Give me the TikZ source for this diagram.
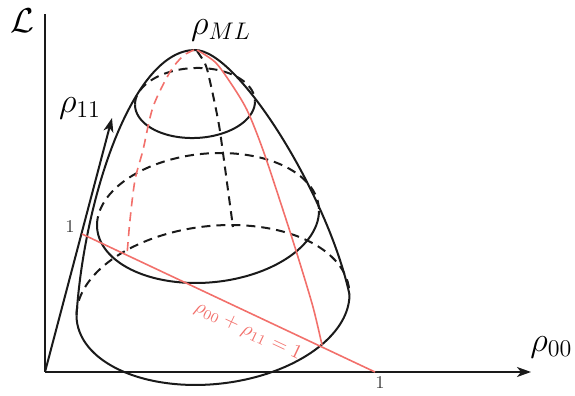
\documentclass[tikz,border=0pt]{standalone}
\usepackage{amsmath}
\usepackage{xcolor}
\usepackage{tikz}
\usetikzlibrary{arrows.meta}
\definecolor{cutred}{HTML}{F2706B}
\definecolor{surfdark}{HTML}{1A1A1A}

\begin{document}
\begin{tikzpicture}[
  x=0.5pt, y=-0.5pt,
  surf/.style={line width=1pt, draw=surfdark},
  hidden/.style={surf, dash pattern=on 4.5pt off 3pt},
  cut/.style={line width=0.8pt, draw=cutred},
  cuthidden/.style={cut, dash pattern=on 4.5pt off 3pt},
  axisarr/.style={line width=1pt, draw=surfdark, -{Stealth[length=7pt, width=5pt, inset=2pt]}},
  lbl/.style={font=\fontsize{18}{20}\selectfont, inner sep=0pt},
  tck/.style={font=\fontsize{9}{10}\selectfont, text=black!75, inner sep=0pt}
]
\useasboundingbox (0,0) rectangle (575,396);

% axes
\coordinate (O) at (45,372);
\coordinate (Ltop) at (45,14);
\coordinate (Xtip) at (531,372);
\coordinate (Ytip) at (112,118);
\draw[line width=1pt, draw=surfdark] (O) -- (Ltop);
\draw[axisarr] (O) -- (Xtip);
\draw[axisarr] (O) -- (Ytip);

% level sections of the surface
\foreach \cx/\cy/\rx/\sy/\ry in {195/103/60/-1.6/35, 208/218/111/-7.2/64.6, 213/305/136.5/-10.4/79.3}{
  \draw[surf] plot[domain=0:180, samples=60, smooth]
    ({\cx+\rx*cos(\x)}, {\cy+(\sy)*cos(\x)+\ry*sin(\x)});
  \draw[hidden] plot[domain=180:360, samples=60, smooth]
    ({\cx+\rx*cos(\x)}, {\cy+(\sy)*cos(\x)+\ry*sin(\x)});
}

% outline
\coordinate (apex) at (195,50);
\coordinate (bl) at (76.5,315.4);
\coordinate (br) at (349.5,294.6);
\draw[surf] (bl) .. controls (84,200) and (132,50) .. (apex)
  .. controls (238,50) and (328,195) .. (br);

% back meridian
\draw[hidden] plot[smooth] coordinates {(197,51) (203,60) (207,69) (213,95) (219,125)
  (223,153) (228,190) (233,227)};

% plane rho00 + rho11 = 1
\coordinate (P1) at (82,234);
\coordinate (P0) at (375,372);
\draw[cut] (P1) -- (P0);
\draw[cut] plot[smooth] coordinates {(197,50) (215,62) (230,82) (247,110) (263,150)
  (283,210) (298,257) (313,307) (322,345)};
\draw[cuthidden] plot[smooth] coordinates {(194,50) (183,56) (170,72) (153,107)
  (143,150) (135,180) (130,220) (127,255)};

% labels
\node[lbl] (lL) at (22,21) {$\mathcal{L}$};
\node[lbl] (lML) at (221,30) {$\rho_{ML}$};
\node[lbl] (l11) at (80,108) {$\rho_{11}$};
\node[lbl, anchor=west] (l00) at (530,347) {$\rho_{00}$};
\node[tck] (t11) at (70,227) {1};
\node[tck] (t00) at (380,383) {1};
\node[font=\fontsize{10}{12}\selectfont, text=cutred, rotate=-25.2, inner sep=0pt]
  (lplane) at (248,331) {$\rho_{00}+\rho_{11}=1$};
\end{tikzpicture}
\end{document}
